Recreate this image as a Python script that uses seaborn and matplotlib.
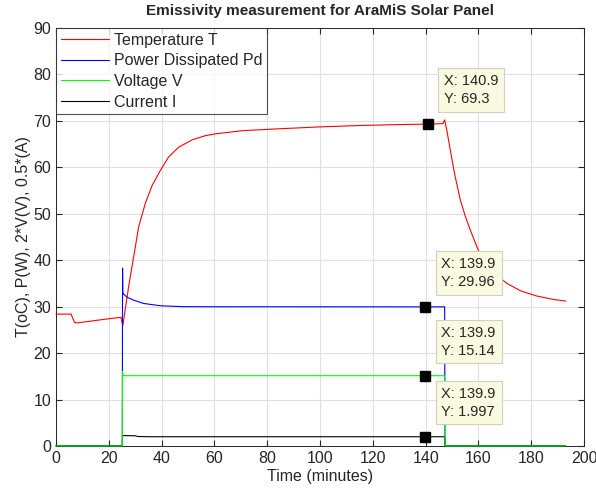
import pandas as pd
import numpy as np
import matplotlib.pyplot as plt
import seaborn as sns

# ---- data ----
t_temp = [0, 5.7, 7.0, 8.0, 12, 16, 20, 24.6, 25.3, 27.5, 29.4, 31.3, 33.8,
          36.4, 39.5, 42.6, 46.4, 51.5, 56.5, 60.3, 70.9, 84.7, 100, 115, 130,
          140.9, 146.5, 147.2, 148.0, 149.3, 151.0, 153.1, 155.0, 156.9, 159.9,
          163, 166, 170.8, 176, 182, 188, 193]
temp = [28.4, 28.4, 26.6, 26.5, 26.8, 27.1, 27.4, 27.7, 25.9, 34.3, 40.7, 47.2,
        52.2, 56.1, 59.3, 62.2, 64.3, 65.9, 66.8, 67.2, 67.9, 68.3, 68.7, 69.0,
        69.2, 69.3, 69.4, 70.2, 68.0, 63.8, 58.5, 53.0, 49.5, 46.5, 42.2,
        39.3, 37.2, 35.0, 33.4, 32.3, 31.6, 31.2]

t_pow = [0, 25.1, 25.2, 25.3, 25.6, 27, 29.4, 33.1, 39.4, 48, 60, 100, 139.9,
         147.2, 147.3, 193]
power = [0, 0, 38.3, 33.0, 32.7, 32.0, 31.4, 30.7, 30.2, 30.0, 29.98, 29.97,
         29.96, 29.96, 0, 0]

t_volt = [0, 25.1, 25.2, 25.4, 26, 139.9, 147.2, 147.3, 193]
volt = [0, 0, 16.0, 15.2, 15.14, 15.14, 15.14, 0, 0]

t_curr = [0, 25.1, 25.2, 30, 31, 35, 139.9, 147.2, 147.3, 193]
curr = [0, 0, 2.25, 2.2, 2.05, 2.0, 1.997, 1.997, 0, 0]

tip_x = [140.9, 139.9, 139.9, 139.9]
tip_y = [69.3, 29.96, 15.14, 1.997]

# ---- style ----
sns.set_style("ticks")
plt.rcParams['font.family'] = ['Liberation Sans', 'DejaVu Sans']

fig = plt.figure(figsize=(5.96, 4.93), dpi=100)
ax = fig.add_axes([0.094, 0.0953, 0.886, 0.848])

lw = 0.8
sns.lineplot(x=t_temp, y=temp, color='#FF0000', lw=lw, label='Temperature T', ax=ax, zorder=3)
sns.lineplot(x=t_pow, y=power, color='#0000FF', lw=lw, label='Power Dissipated Pd', ax=ax, zorder=3)
sns.lineplot(x=t_volt, y=volt, color='#00FF00', lw=lw, label='Voltage V', ax=ax, zorder=3.2)
sns.lineplot(x=t_curr, y=curr, color='#000000', lw=lw, label='Current I', ax=ax, zorder=3.1)
for ln in ax.lines:
    ln.set_clip_on(False)

# data tips
ax.plot(tip_x, tip_y, 's', color='black', ms=7, zorder=5)
for x, y in zip(tip_x, tip_y):
    ax.annotate(f"X: {x:g}\nY: {y:g}", xy=(x, y), xytext=(16, 50),
                textcoords='offset pixels', ha='left', va='top',
                fontsize=10.5, linespacing=1.35, zorder=6,
                bbox=dict(boxstyle='square,pad=0.4', fc='#FAFAE0', ec='#D0D0C0', lw=0.8))

ax.set_xlim(0, 200)
ax.set_ylim(0, 90)
ax.set_xticks(range(0, 201, 20))
ax.set_yticks(range(0, 91, 10))
ax.grid(True, color='#E0E0E0', lw=0.8)
ax.set_axisbelow(True)
for s in ax.spines.values():
    s.set_visible(True)
    s.set_color('#262626')
    s.set_linewidth(0.7)
ax.tick_params(direction='in', length=4, labelsize=11.5, colors='#262626',
               top=True, right=True, labeltop=False, labelright=False)

ax.set_title('Emissivity measurement for AraMiS Solar Panel', fontsize=11,
             fontweight='bold', pad=9)
ax.set_xlabel('Time (minutes)', fontsize=11.5, labelpad=2)
ax.set_ylabel('T(oC), P(W), 2*V(V), 0.5*(A)', fontsize=11.5, labelpad=2)

leg = ax.legend(loc='upper left', fontsize=11.5, frameon=True, fancybox=False,
                handlelength=3.0, handletextpad=0.3, borderaxespad=0,
                borderpad=0.3, labelspacing=0.35)
leg.get_frame().set_edgecolor('#262626')
leg.get_frame().set_linewidth(0.8)

plt.savefig('out.png', dpi=100)
